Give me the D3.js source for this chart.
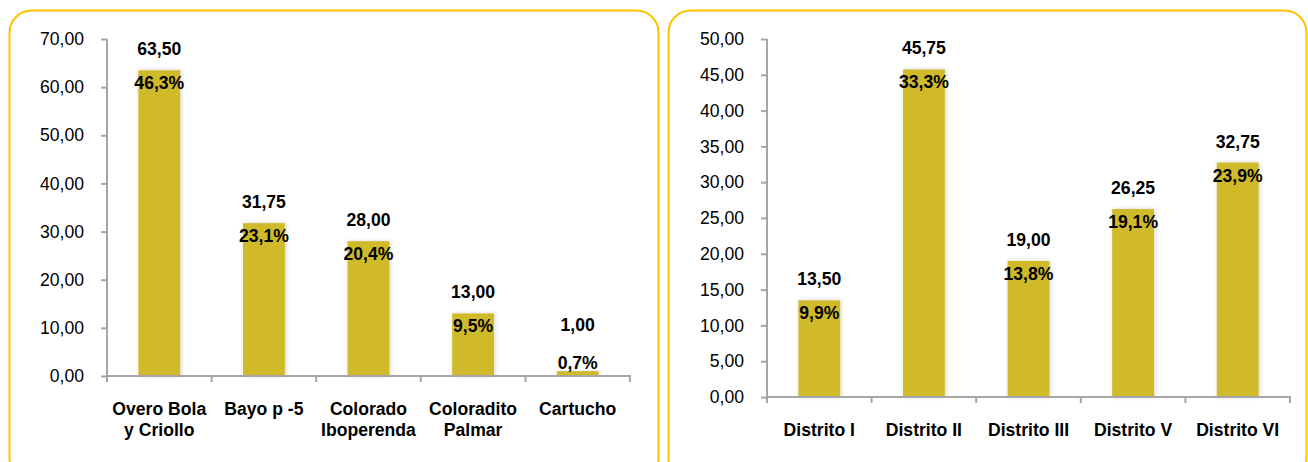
<!DOCTYPE html>
<html>
<head>
<meta charset="utf-8">
<script src="https://cdn.jsdelivr.net/npm/d3@7"></script>
<style>
  body { margin: 0; background: #fff; }
  svg text { font-family: "Liberation Sans", Arial, sans-serif; fill: #000; }
</style>
</head>
<body>
<div id="svganchor"></div>
<script>
let width = 1308;
let height = 462;

// Left chart: varieties
let varietyLabels = [["Overo Bola", "y Criollo"], ["Bayo p -5"], ["Colorado", "Iboperenda"], ["Coloradito", "Palmar"], ["Cartucho"]];
let varietyValues = [63.50, 31.75, 28.00, 13.00, 1.00];
let varietyPercents = [46.3, 23.1, 20.4, 9.5, 0.7];
let varietyTicks = [0, 10, 20, 30, 40, 50, 60, 70];

// Right chart: districts
let districtLabels = [["Distrito I"], ["Distrito II"], ["Distrito III"], ["Distrito V"], ["Distrito VI"]];
let districtValues = [13.50, 45.75, 19.00, 26.25, 32.75];
let districtPercents = [9.9, 33.3, 13.8, 19.1, 23.9];
let districtTicks = [0, 5, 10, 15, 20, 25, 30, 35, 40, 45, 50];

let barColor = "#d1ba2c";
let axisColor = "#a6a6a6";
let frameColor = "#ffc000";
let fontSize = "17.6px";

let fmt2 = d3.format(".2f");
let fmt1 = d3.format(".1f");
let comma = s => s.replace(".", ",");

let svg = d3.select("#svganchor")
    .append("svg")
    .attr("width", width)
    .attr("height", height);

// soft shadow like the spreadsheet bars
let defs = svg.append("defs");
let filter = defs.append("filter")
    .attr("id", "barShadow")
    .attr("x", "-30%").attr("y", "-10%")
    .attr("width", "160%").attr("height", "120%");
filter.append("feDropShadow")
    .attr("dx", 1).attr("dy", 0)
    .attr("stdDeviation", 2)
    .attr("flood-color", "#000")
    .attr("flood-opacity", 0.18);

// rounded frames
svg.append("rect")
    .attr("x", 9.5).attr("y", 10.5)
    .attr("width", 649).attr("height", 470)
    .attr("rx", 22)
    .attr("fill", "none")
    .attr("stroke", frameColor)
    .attr("stroke-width", 2);

svg.append("rect")
    .attr("x", 668.5).attr("y", 10.5)
    .attr("width", 638).attr("height", 470)
    .attr("rx", 22)
    .attr("fill", "none")
    .attr("stroke", frameColor)
    .attr("stroke-width", 2);

function drawChart(opts) {
    let g = svg.append("g");

    let xScale = d3.scaleBand()
        .domain(d3.range(opts.values.length))
        .range([opts.left, opts.right])
        .paddingInner(0.6)
        .paddingOuter(0.3);

    let yScale = d3.scaleLinear()
        .domain([0, opts.max])
        .range([opts.bottom, opts.top]);

    // y axis
    let yAxis = d3.axisLeft(yScale)
        .tickValues(opts.ticks)
        .tickFormat(d => comma(fmt2(d)))
        .tickSize(6)
        .tickPadding(17)
        .tickSizeOuter(0);

    let yg = g.append("g")
        .attr("transform", "translate(" + opts.left + ",0)")
        .call(yAxis);
    yg.selectAll("path, line").attr("stroke", axisColor).attr("stroke-width", 2);
    yg.select(".domain").attr("d", "M0," + yScale(opts.max) + "V" + (opts.bottom + 1));
    yg.selectAll("text").attr("font-size", fontSize).attr("fill", "#000");

    // bars
    g.selectAll(".bar")
        .data(opts.values)
        .enter()
        .append("rect")
        .attr("class", "bar")
        .attr("x", (d, i) => xScale(i))
        .attr("y", d => yScale(d))
        .attr("width", xScale.bandwidth())
        .attr("height", d => opts.bottom - yScale(d))
        .attr("fill", barColor)
        .attr("filter", "url(#barShadow)");

    // x axis line with ticks at band edges
    let step = xScale.step();
    let edges = d3.range(opts.values.length + 1).map(i => opts.left + i * step);
    g.append("line")
        .attr("x1", opts.left - 1).attr("x2", opts.right + 1)
        .attr("y1", opts.bottom).attr("y2", opts.bottom)
        .attr("stroke", axisColor).attr("stroke-width", 2);
    g.selectAll(".xtick")
        .data(edges)
        .enter()
        .append("line")
        .attr("x1", d => d).attr("x2", d => d)
        .attr("y1", opts.bottom).attr("y2", opts.bottom + 6)
        .attr("stroke", axisColor).attr("stroke-width", 2);

    // category labels
    let cx = i => xScale(i) + xScale.bandwidth() / 2;
    opts.labels.forEach(function (lines, i) {
        let t = g.append("text")
            .attr("text-anchor", "middle")
            .attr("font-size", fontSize)
            .attr("font-weight", "bold");
        lines.forEach(function (line, j) {
            t.append("tspan")
                .attr("x", cx(i))
                .attr("y", opts.bottom + 39 + j * 21)
                .text(line);
        });
    });

    // value labels above bars (kept clear of the percent label on tiny bars)
    g.selectAll(".value")
        .data(opts.values)
        .enter()
        .append("text")
        .attr("class", "value")
        .attr("text-anchor", "middle")
        .attr("font-size", fontSize)
        .attr("font-weight", "bold")
        .attr("x", (d, i) => cx(i))
        .attr("y", d => Math.min(yScale(d) - 15, opts.bottom - 45))
        .text(d => comma(fmt2(d)));

    // percent labels inside bars
    g.selectAll(".pct")
        .data(opts.percents)
        .enter()
        .append("text")
        .attr("class", "pct")
        .attr("text-anchor", "middle")
        .attr("font-size", fontSize)
        .attr("font-weight", "bold")
        .attr("x", (d, i) => cx(i))
        .attr("y", (d, i) => Math.min(yScale(opts.values[i]) + 19, opts.bottom - 7))
        .text(d => comma(fmt1(d)) + "%");
}

drawChart({
    labels: varietyLabels,
    values: varietyValues,
    percents: varietyPercents,
    ticks: varietyTicks,
    max: 70,
    left: 107, right: 630,
    top: 39, bottom: 376
});

drawChart({
    labels: districtLabels,
    values: districtValues,
    percents: districtPercents,
    ticks: districtTicks,
    max: 50,
    left: 767, right: 1290,
    top: 39, bottom: 397
});
</script>
</body>
</html>
